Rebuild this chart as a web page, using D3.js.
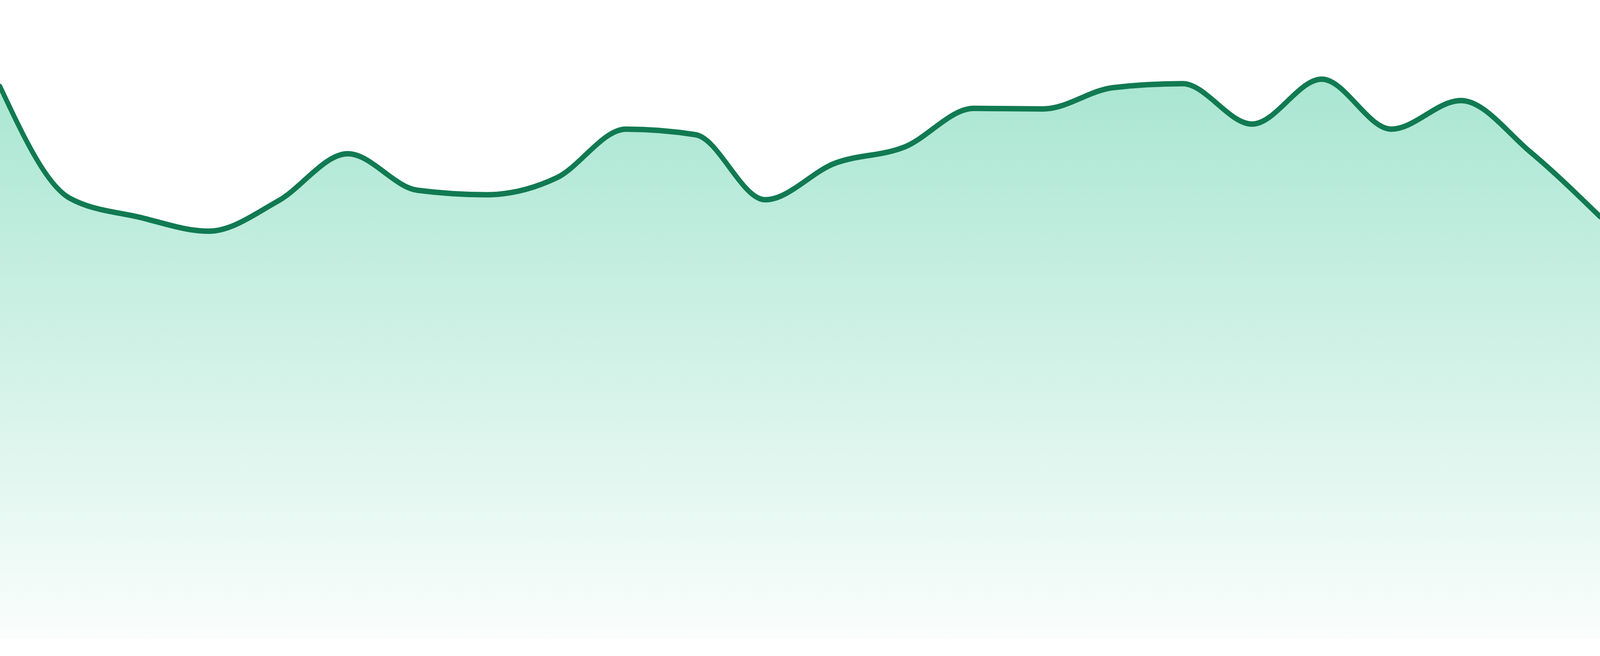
<!DOCTYPE html>
<html>
<head>
<meta charset="utf-8">
<script src="https://cdn.jsdelivr.net/npm/d3@7"></script>
<style>
  html, body { margin: 0; padding: 0; background: #ffffff; overflow: hidden; width: 100%; height: 100%; }
  svg { display: block; width: 100vw; height: 100vh; }
</style>
</head>
<body>
<svg id="chart" viewBox="0 0 4800 1680" preserveAspectRatio="none"></svg>
<script>
// Data
const categories = ["1","2","3","4","5","6","7","8","9","10","11","12","13","14","15","16","17","18","19","20","21","22","23","24"];
const values = [98.5, 78.6, 75.2, 72.7, 78.1, 86.5, 80.0, 79.2, 82.2, 90.9, 89.9, 78.3,
                84.8, 87.7, 94.6, 94.5, 98.3, 99.0, 91.8, 99.8, 90.9, 96.0, 86.8, 75.3];
const yDomain = [0, 100];

const W = 4800, H = 1680;
const plotBottom = 1636, plotTop = 200;

const svg = d3.select("#chart");

const x = d3.scalePoint().domain(categories).range([0, W]);
const y = d3.scaleLinear().domain(yDomain).range([plotBottom, plotTop]);

const data = categories.map((c, i) => ({ c, v: values[i] }));

const defs = svg.append("defs");
const grad = defs.append("linearGradient")
  .attr("id", "areaGrad")
  .attr("x1", 0).attr("y1", 0).attr("x2", 0).attr("y2", 1);
grad.append("stop").attr("offset", "0%").attr("stop-color", "#10b981").attr("stop-opacity", 0.36);
grad.append("stop").attr("offset", "100%").attr("stop-color", "#10b981").attr("stop-opacity", 0.02);

const area = d3.area()
  .x(d => x(d.c))
  .y0(y(0))
  .y1(d => y(d.v))
  .curve(d3.curveMonotoneX);

const line = d3.line()
  .x(d => x(d.c))
  .y(d => y(d.v))
  .curve(d3.curveMonotoneX);

svg.append("path")
  .datum(data)
  .attr("d", area)
  .attr("fill", "url(#areaGrad)");

svg.append("path")
  .datum(data)
  .attr("d", line)
  .attr("fill", "none")
  .attr("stroke", "#117a52")
  .attr("stroke-width", 14)
  .attr("stroke-linejoin", "round")
  .attr("stroke-linecap", "round");
</script>
</body>
</html>
